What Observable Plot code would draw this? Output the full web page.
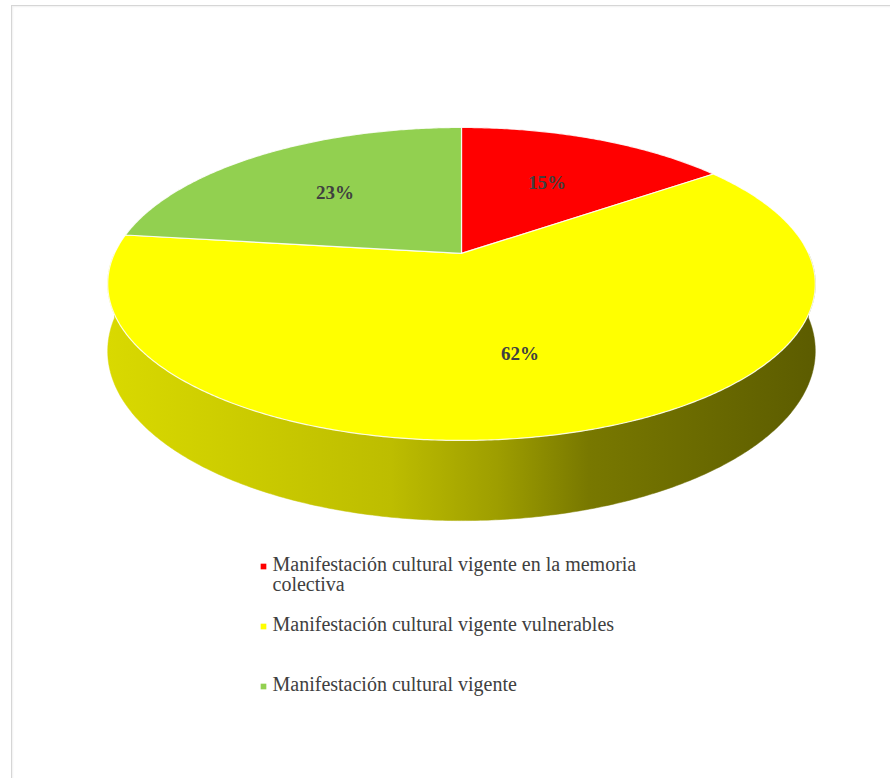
<!DOCTYPE html>
<html>
<head>
<meta charset="utf-8">
<script src="https://cdn.jsdelivr.net/npm/d3@7"></script>
<script src="https://cdn.jsdelivr.net/npm/@observablehq/plot@0.6"></script>
<style>
  html, body { margin: 0; padding: 0; background: #ffffff; }
  #wrap { position: relative; width: 890px; height: 778px; overflow: hidden; }
  #frame { position: absolute; left: 11px; top: 5px; width: 920px; height: 820px;
           border: 1px solid #d6d6d6; box-shadow: 1px 1px 2px rgba(0,0,0,0.06) inset; }
  #chart { position: absolute; left: 0; top: 0; }
  #chart svg text { font-family: "Liberation Serif", "Times New Roman", serif; }
</style>
</head>
<body>
<div id="wrap"><div id="frame"></div><div id="chart"></div></div>
<script>
// ---- data ----
const categories = [
  "Manifestación cultural vigente en la memoria colectiva",
  "Manifestación cultural vigente vulnerables",
  "Manifestación cultural vigente"
];
const values = [15, 62, 23];
const labels = ["15%", "62%", "23%"];
const colors = ["#ff0000", "#ffff00", "#92d050"];

// ---- 3D perspective pie geometry (level camera) ----
const CX = 461, YH = -519.5, F = 1780.5, L = 5.131, HC = 2.226, DEPTH = 0.186;
function proj(tDeg, r, level) {
  const t = tDeg * Math.PI / 180;
  const u = r * Math.sin(t), v = -r * Math.cos(t);
  const den = L - v;
  return [CX + F * u / den, YH + F * (HC + level) / den];
}
const total = d3.sum(values);
let acc = 0;
const slices = values.map((v, i) => {
  const a0 = acc / total * 360; acc += v; const a1 = acc / total * 360;
  return {i, a0, a1, mid: (a0 + a1) / 2};
});

const topPts = [], sidePts = [];
for (const s of slices) {
  const c = proj(0, 0, 0);
  topPts.push({s: s.i, x: c[0], y: c[1]});
  const n = Math.max(2, Math.ceil(s.a1 - s.a0) * 2);
  for (let k = 0; k <= n; k++) {
    const p = proj(s.a0 + (s.a1 - s.a0) * k / n, 1, 0);
    topPts.push({s: s.i, x: p[0], y: p[1]});
  }
  const s0 = Math.max(s.a0, 90), s1 = Math.min(s.a1, 270);
  if (s0 < s1) {
    const m = Math.ceil(s1 - s0) * 2;
    for (let k = 0; k <= m; k++) { const p = proj(s0 + (s1 - s0) * k / m, 1, 0); sidePts.push({s: s.i, x: p[0], y: p[1]}); }
    for (let k = m; k >= 0; k--) { const p = proj(s0 + (s1 - s0) * k / m, 1, DEPTH); sidePts.push({s: s.i, x: p[0], y: p[1]}); }
  }
}
const labelPts = slices.map(s => { const p = proj(s.mid, 0.6, 0); return {x: p[0], y: p[1] + 2, text: labels[s.i]}; });

// ---- legend wrapping (measured) ----
const FONT = "'Liberation Serif', 'Times New Roman', serif";
const LEG_SIZE = 20;
const ctx = document.createElement("canvas").getContext("2d");
ctx.font = `${LEG_SIZE}px ${FONT}`;
function wrap(str, maxW) {
  const words = str.split(" "); const lines = []; let cur = "";
  for (const w of words) {
    const t = cur ? cur + " " + w : w;
    if (ctx.measureText(t).width > maxW && cur) { lines.push(cur); cur = w; } else cur = t;
  }
  lines.push(cur); return lines.join("\n");
}
const legend = categories.map((c, i) => ({name: wrap(c, 405), color: colors[i], y: 566 + i * 60}));

// ---- marks ----
const marks = [];
for (const s of slices) {
  const pts = sidePts.filter(d => d.s === s.i);
  if (pts.length) marks.push(Plot.line(pts, {x: "x", y: "y", fill: `url(#side${s.i})`, stroke: `url(#side${s.i})`, strokeWidth: 0.5, curve: "linear-closed"}));
}
for (const s of slices) {
  marks.push(Plot.line(topPts.filter(d => d.s === s.i), {x: "x", y: "y", fill: colors[s.i], stroke: "#ffffff", strokeOpacity: 0.85, strokeWidth: 1.2, curve: "linear-closed"}));
}
marks.push(Plot.text(labelPts, {x: "x", y: "y", text: "text", fontSize: 19, fontWeight: "bold", fill: "#404040", fontFamily: FONT}));
marks.push(Plot.dot(legend, {x: () => 263, y: "y", symbol: "square", r: 3.2, fill: "color", stroke: "none"}));
marks.push(Plot.text(legend, {x: () => 272, y: d => d.y - 10, text: "name", textAnchor: "start", lineAnchor: "top", lineHeight: 1.0, fontSize: LEG_SIZE, fill: "#404040", fontFamily: FONT}));

const svg = Plot.plot({
  width: 890, height: 778, margin: 0,
  x: {type: "identity", axis: null},
  y: {type: "identity", axis: null},
  color: {type: "identity"},
  style: {background: "transparent", overflow: "visible", fontFamily: FONT},
  marks
});

// gradients for the side walls
const defs = d3.select(svg).insert("defs", ":first-child");
slices.forEach(s => {
  const base = d3.color(colors[s.i]);
  const g = defs.append("linearGradient").attr("id", `side${s.i}`)
    .attr("gradientUnits", "userSpaceOnUse").attr("x1", 107).attr("x2", 815).attr("y1", 0).attr("y2", 0);
  const stops = [[0, 0.85], [0.4, 0.74], [0.55, 0.62], [0.68, 0.47], [1, 0.36]];
  stops.forEach(([o, k]) => {
    const c = d3.rgb(base.r * k, base.g * k, base.b * k);
    g.append("stop").attr("offset", o).attr("stop-color", c.formatHex());
  });
});
document.getElementById("chart").appendChild(svg);
</script>
</body>
</html>
